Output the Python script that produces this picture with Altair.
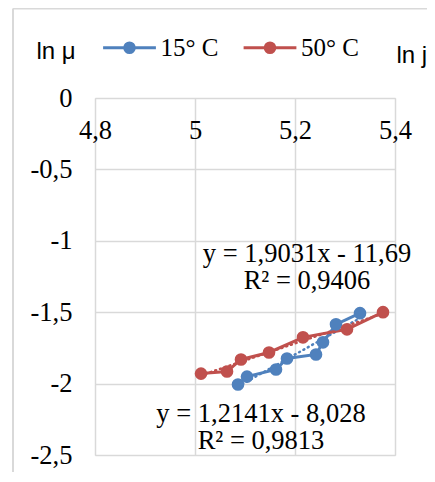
import altair as alt
import pandas as pd

# ---- data ----
series_names = ["15° C", "50° C"]
series_colors = ["#4F81BD", "#C0504D"]

blue_x = [5.086, 5.104, 5.162, 5.184, 5.242, 5.256, 5.282, 5.330]
blue_y = [-2.006, -1.951, -1.901, -1.824, -1.796, -1.711, -1.585, -1.507]
red_x = [5.012, 5.064, 5.092, 5.148, 5.216, 5.304, 5.376]
red_y = [-1.930, -1.915, -1.831, -1.782, -1.676, -1.620, -1.500]

x_ticks = [4.8, 5.0, 5.2, 5.4]
y_ticks = [0, -0.5, -1, -1.5, -2, -2.5]
eq_15 = ["y = 1,9031x - 11,69", "R² = 0,9406"]
eq_50 = ["y = 1,2141x - 8,028", "R² = 0,9813"]
x_title = "ln j"
y_title = "ln μ"

df = pd.DataFrame({
    "lnj": blue_x + red_x,
    "lnmu": blue_y + red_y,
    "series": [series_names[0]] * len(blue_x) + [series_names[1]] * len(red_x),
})

SERIF = "Liberation Serif"
SANS = "Liberation Sans"
GRID = "#d9d9d9"
FS = 26.5

label_expr = "replace(replace(format(datum.value, '.1~f'), '.', ','), '\u2212', '-')"

legend_path = ("M-4.4,0L4.4,0 "
               "M0.3,0A0.3,0.3,0,1,1,-0.3,0A0.3,0.3,0,1,1,0.3,0Z "
               "M0.8,0A0.8,0.8,0,1,1,-0.8,0A0.8,0.8,0,1,1,0.8,0Z")

legend = alt.Legend(
    orient="none", legendX=22, legendY=-63, direction="horizontal",
    title=None, symbolType=legend_path, symbolSize=144, symbolStrokeWidth=3,
    labelOffset=18.5, columnPadding=18.5, labelFont=SERIF, labelFontSize=25,
    labelColor="black", padding=0,
)

color = alt.Color("series:N", scale=alt.Scale(domain=series_names, range=series_colors),
                  legend=legend)

x_enc = alt.X("lnj:Q", scale=alt.Scale(domain=[4.8, 5.4], nice=False, zero=False),
              axis=alt.Axis(orient="top", values=x_ticks, labelExpr=label_expr,
                            title=x_title, titleX=301, titleY=-36, titleAlign="left",
                            titleBaseline="alphabetic", titleAngle=0, titleFont=SANS,
                            titleFontSize=24, titleFontWeight="normal", titleColor="black",
                            labelFont=SERIF, labelFontSize=FS, labelColor="black",
                            labelBaseline="alphabetic", labelPadding=-40, labelFlush=False,
                            labelOverlap=False, ticks=False, tickSize=0, domain=False,
                            grid=True, gridColor=GRID, gridWidth=1.5))
y_enc = alt.Y("lnmu:Q", scale=alt.Scale(domain=[-2.5, 0], nice=False, zero=False),
              axis=alt.Axis(values=y_ticks, labelExpr=label_expr,
                            title=y_title, titleX=-59, titleY=-40, titleAlign="left",
                            titleBaseline="alphabetic", titleAngle=0, titleFont=SANS,
                            titleFontSize=24, titleFontWeight="normal", titleColor="black",
                            labelFont=SERIF, labelFontSize=FS, labelColor="black",
                            labelPadding=23, labelFlush=False, labelOverlap=False,
                            ticks=False, tickSize=0, domain=False,
                            grid=True, gridColor=GRID, gridWidth=1.5))

base = alt.Chart(df).encode(x=x_enc, y=y_enc, color=color)

trend = base.transform_regression("lnj", "lnmu", groupby=["series"]).mark_line(
    strokeWidth=2.5, strokeDash=[1, 4], strokeCap="round")
lines = base.mark_line(strokeWidth=3)
points = base.mark_point(filled=True, size=160, opacity=1)

one = pd.DataFrame({"k": [0]})
txt_kw = dict(align="center", baseline="alphabetic", font=SERIF, fontSize=FS,
              lineBreak="\n", lineHeight=27, color="black")
eq1 = alt.Chart(one).mark_text(**txt_kw).encode(
    x=alt.value(212), y=alt.value(164), text=alt.value("\n".join(eq_15)))
eq2 = alt.Chart(one).mark_text(**txt_kw).encode(
    x=alt.value(166), y=alt.value(324), text=alt.value("\n".join(eq_50)))

border_top = alt.Chart(one).mark_rule(color=GRID, strokeWidth=2).encode(
    x=alt.value(-82), x2=alt.value(345), y=alt.value(-89.5))
border_left = alt.Chart(one).mark_rule(color=GRID, strokeWidth=2).encode(
    x=alt.value(-82), y=alt.value(-89.5), y2=alt.value(400))

chart = alt.layer(trend, lines, points, eq1, eq2, border_top, border_left).properties(
    width=300, height=357,
    autosize=alt.AutoSizeParams(type="none"),
    padding={"left": 87, "top": 90, "right": 32, "bottom": 17},
).configure_view(stroke=GRID, strokeWidth=1.5).configure(background="white")

chart.save("out.html", embed_options={"renderer": "svg", "actions": False})
